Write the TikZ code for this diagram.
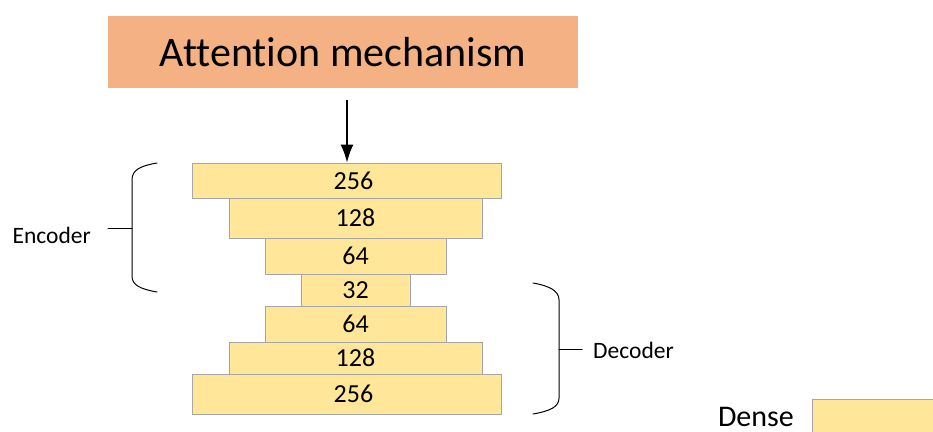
\documentclass[tikz,border=0pt]{standalone}
\usepackage{fontspec}
\setmainfont{Carlito}[Ligatures=NoCommon]
\usetikzlibrary{arrows.meta}
\begin{document}
\begin{tikzpicture}[x=1pt,y=-1pt,
  layer/.style={draw=black!35,fill=layerfill,line width=0.8pt,inner sep=0pt,
    font=\fontsize{26}{30}\selectfont},
  wide/.style={label={[xshift=7pt,font=\fontsize{26}{30}\selectfont,inner sep=0pt]center:#1}},
  brace/.style={line width=1pt,line cap=round},
  lbl/.style={font=\fontsize{23.5}{27}\selectfont,inner sep=0pt}]
\definecolor{layerfill}{HTML}{FFE699}
\definecolor{attfill}{HTML}{F4B183}
\useasboundingbox (0,0) rectangle (933,431);
% attention block
\node[fill=attfill,minimum width=470pt,minimum height=72pt,inner sep=0pt,
  font=\fontsize{42}{46}\selectfont] (att) at (343,52) {Attention mechanism};
% encoder / decoder layers
\node[layer,wide=256,minimum width=309pt,minimum height=35pt] (e1) at (346.5,180.5) {};
\node[layer,minimum width=253pt,minimum height=40pt] (e2) at (355.5,218) {128};
\node[layer,minimum width=181pt,minimum height=36pt] (e3) at (355.5,256) {64};
\node[layer,minimum width=109pt,minimum height=32pt] (mid) at (355.5,290) {32};
\node[layer,minimum width=181pt,minimum height=36pt] (d3) at (355.5,324) {64};
\node[layer,minimum width=253pt,minimum height=32pt] (d2) at (355.5,358) {128};
\node[layer,wide=256,minimum width=309pt,minimum height=40pt] (d1) at (346.5,394) {};
% input arrow
\coordinate (arrtop) at (347,100);
\draw[line width=1.8pt,-{Latex[length=18pt,width=13pt]}] (arrtop) -- (arrtop |- e1.north);
% encoder brace
\coordinate (eb1) at (157,163);
\coordinate (eb2) at (157,292);
\coordinate (et) at (108,228);
\draw[brace] (eb1) .. controls (140,166) and (132,170) .. (132,180)
  -- (132,276) .. controls (132,285) and (140,289) .. (eb2);
\draw[brace] (et) -- (132,228);
\node[lbl,anchor=east] (enc) at (91,235) {Encoder};
% decoder brace
\coordinate (db1) at (533,283);
\coordinate (db2) at (533,414);
\coordinate (dt) at (582,349);
\draw[brace] (db1) .. controls (550,286) and (559,291) .. (559,300)
  -- (559,398) .. controls (559,407) and (550,411) .. (db2);
\draw[brace] (559,349) -- (dt);
\node[lbl,anchor=west] (dec) at (593,350) {Decoder};
% legend
\node[font=\fontsize{30}{34}\selectfont,inner sep=0pt,anchor=base east] (dense) at (794,426) {Dense};
\node[draw=black!35,fill=layerfill,line width=0.8pt,minimum width=140pt,
  minimum height=50pt,anchor=north west,inner sep=0pt] (densebox) at (812,399) {};
\end{tikzpicture}
\end{document}
